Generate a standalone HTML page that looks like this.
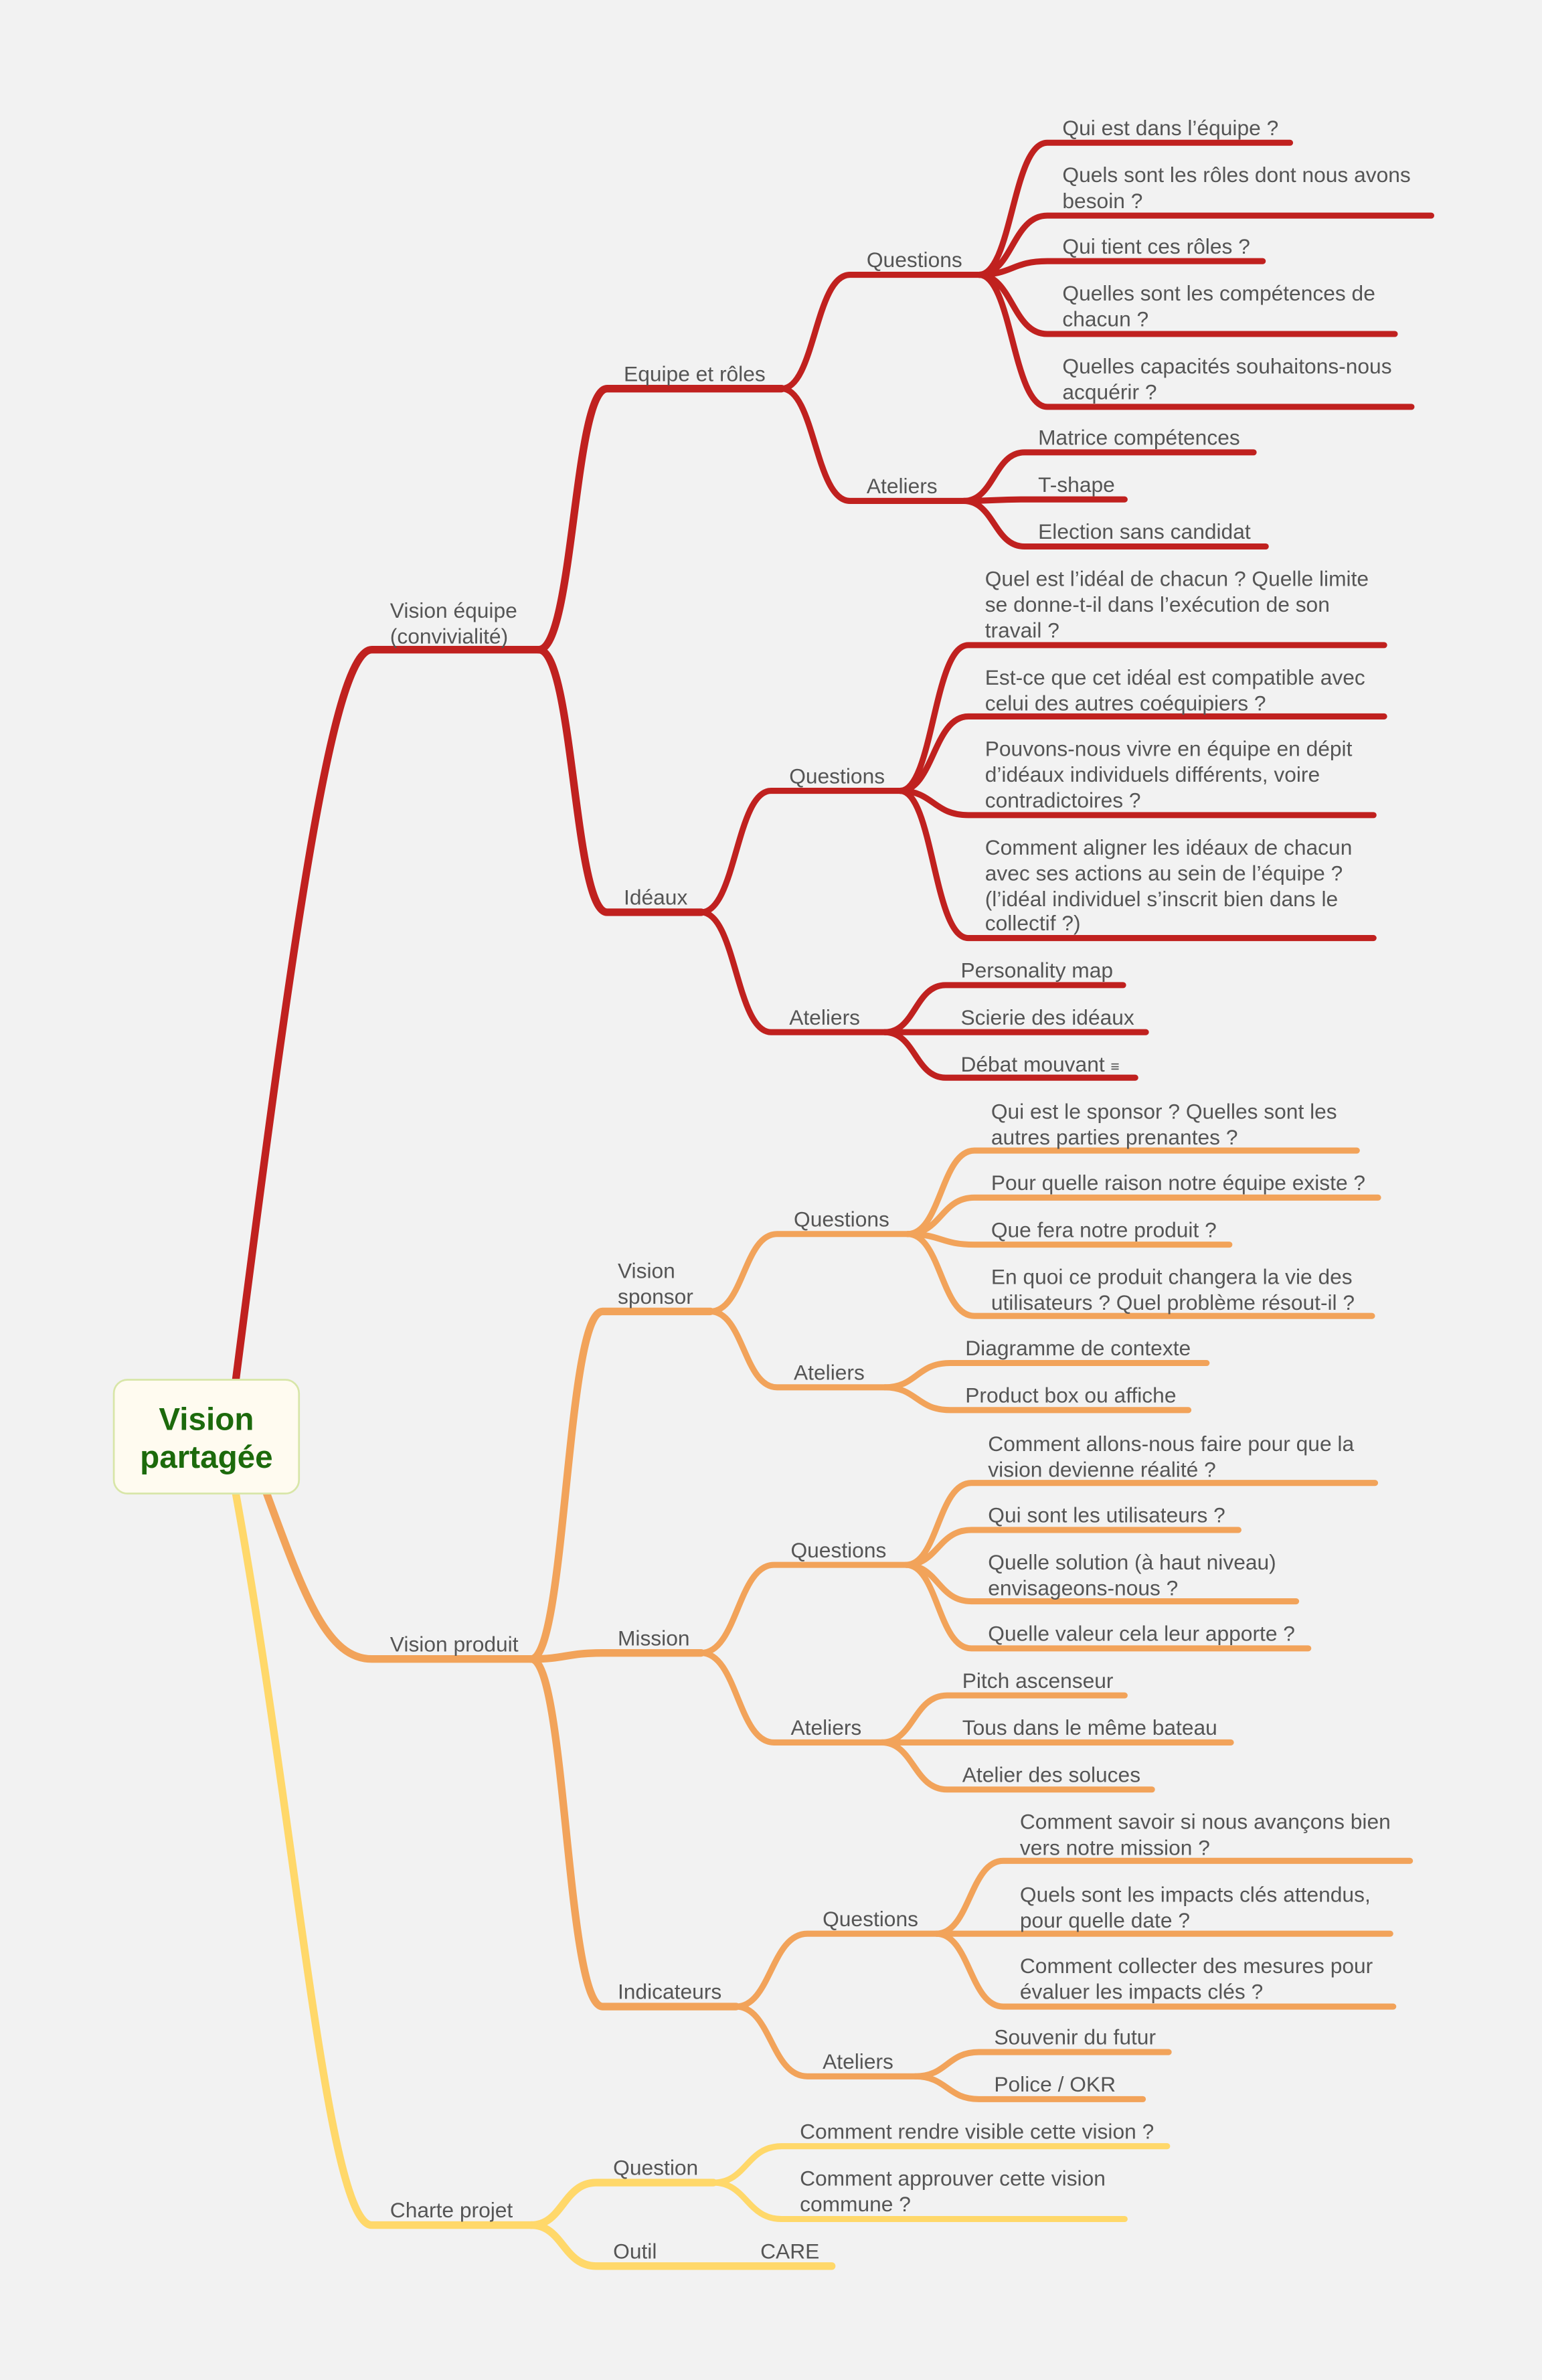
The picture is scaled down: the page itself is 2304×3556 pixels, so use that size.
<!DOCTYPE html>
<html><head><meta charset="utf-8">
<style>
html,body{margin:0;padding:0;background:#f2f2f2;}
svg{display:block;}
text{font-family:"Liberation Sans",Arial,sans-serif;font-size:14px;fill:#555;}
.r path,.o path,.y path{fill:none;stroke-linecap:round;stroke-linejoin:round;}
.r path{stroke:#c0211f;stroke-width:4;}
.o path{stroke:#f2a35a;stroke-width:4;}
.y path{stroke:#ffd86a;stroke-width:4;}
.l1{stroke-width:5 !important;}
</style></head>
<body>
<svg width="2304" height="3556" viewBox="0 0 1016 1568" xmlns="http://www.w3.org/2000/svg">
<rect width="1016" height="1568" fill="#f2f2f2"/>

<!-- RED -->
<g class="r">
<path class="l1" d="M155 912 C195 600 220 428 245 428 L355 428"/>
<path class="l1" d="M355 428 C378 428 378 256 400 256 L515 256"/>
<path class="l1" d="M355 428 C378 428 378 601 400 601 L462 601"/>
<path d="M515 256 C537 256 537 181 560 181 L645 181"/>
<path d="M515 256 C537 256 537 330 560 330 L635 330"/>
<path d="M645 181 C667 181 667 94 690 94 L850 94"/>
<path d="M645 181 C667 181 667 142 690 142 L943 142"/>
<path d="M645 181 C667 181 667 172 690 172 L832 172"/>
<path d="M645 181 C667 181 667 220 690 220 L919 220"/>
<path d="M645 181 C667 181 667 268 690 268 L930 268"/>
<path d="M635 330 C655 330 655 298 675 298 L826 298"/>
<path d="M635 330 C655 330 655 329 675 329 L741 329"/>
<path d="M635 330 C655 330 655 360 675 360 L834 360"/>
<path d="M462 601 C485 601 485 521 508 521 L593 521"/>
<path d="M462 601 C485 601 485 680 508 680 L583 680"/>
<path d="M593 521 C615 521 615 425 638 425 L912 425"/>
<path d="M593 521 C615 521 615 472 638 472 L912 472"/>
<path d="M593 521 C615 521 615 537 638 537 L905 537"/>
<path d="M593 521 C615 521 615 618 638 618 L905 618"/>
<path d="M583 680 C603 680 603 649 623 649 L740 649"/>
<path d="M583 680 C603 680 603 680 623 680 L755 680"/>
<path d="M583 680 C603 680 603 710 623 710 L748 710"/>
</g>

<!-- ORANGE -->
<g class="o">
<path class="l1" d="M175 982 C200 1050 215 1093 245 1093 L350 1093"/>
<path class="l1" d="M350 1093 C373 1093 373 864 397 864 L468 864"/>
<path class="l1" d="M350 1093 C373 1093 373 1089 397 1089 L462 1089"/>
<path class="l1" d="M350 1093 C373 1093 373 1322 397 1322 L485 1322"/>
<path d="M468 864 C490 864 490 813 512 813 L598 813"/>
<path d="M468 864 C490 864 490 914 512 914 L583 914"/>
<path d="M598 813 C620 813 620 758 642 758 L894 758"/>
<path d="M598 813 C620 813 620 789 642 789 L908 789"/>
<path d="M598 813 C620 813 620 820 642 820 L810 820"/>
<path d="M598 813 C620 813 620 867 642 867 L904 867"/>
<path d="M583 914 C604 914 604 898 626 898 L795 898"/>
<path d="M583 914 C604 914 604 929 626 929 L783 929"/>
<path d="M462 1089 C486 1089 486 1031 510 1031 L597 1031"/>
<path d="M462 1089 C486 1089 486 1148 510 1148 L581 1148"/>
<path d="M597 1031 C618 1031 618 977 640 977 L906 977"/>
<path d="M597 1031 C618 1031 618 1008 640 1008 L816 1008"/>
<path d="M597 1031 C618 1031 618 1055 640 1055 L854 1055"/>
<path d="M597 1031 C618 1031 618 1086 640 1086 L862 1086"/>
<path d="M581 1148 C602 1148 602 1117 624 1117 L741 1117"/>
<path d="M581 1148 C602 1148 602 1148 624 1148 L811 1148"/>
<path d="M581 1148 C602 1148 602 1179 624 1179 L759 1179"/>
<path d="M485 1322 C508 1322 508 1274 532 1274 L617 1274"/>
<path d="M485 1322 C508 1322 508 1368 532 1368 L603 1368"/>
<path d="M617 1274 C639 1274 639 1226 661 1226 L929 1226"/>
<path d="M617 1274 C639 1274 639 1274 661 1274 L916 1274"/>
<path d="M617 1274 C639 1274 639 1322 661 1322 L918 1322"/>
<path d="M603 1368 C624 1368 624 1352 645 1352 L770 1352"/>
<path d="M603 1368 C624 1368 624 1383 645 1383 L753 1383"/>
</g>

<!-- YELLOW -->
<g class="y">
<path class="l1" d="M155 982 C195 1200 215 1466 245 1466 L350 1466"/>
<path class="l1" d="M350 1466 C371 1466 371 1438 393 1438 L470 1438"/>
<path class="l1" d="M350 1466 C371 1466 371 1493 393 1493 L548 1493"/>
<path d="M470 1438 C492 1438 492 1414 515 1414 L769 1414"/>
<path d="M470 1438 C492 1438 492 1462 515 1462 L741 1462"/>
</g>

<!-- Root -->
<rect x="75" y="909" width="122" height="75" rx="9" fill="#fffbf0" stroke="#d8e6a8" stroke-width="1.2"/>
<text x="136" y="942" text-anchor="middle" style="font-size:21px;font-weight:bold;fill:#1c6a0c">Vision</text>
<text x="136" y="967" text-anchor="middle" style="font-size:21px;font-weight:bold;fill:#1c6a0c">partagée</text>

<!-- Red labels -->
<text x="257" y="407">Vision équipe</text>
<text x="257" y="424">(convivialité)</text>
<text x="411" y="251">Equipe et rôles</text>
<text x="411" y="596">Idéaux</text>
<text x="571" y="176">Questions</text>
<text x="571" y="325">Ateliers</text>
<text x="700" y="89">Qui est dans l’équipe ?</text>
<text x="700" y="120">Quels sont les rôles dont nous avons</text>
<text x="700" y="137">besoin ?</text>
<text x="700" y="167">Qui tient ces rôles ?</text>
<text x="700" y="198">Quelles sont les compétences de</text>
<text x="700" y="215">chacun ?</text>
<text x="700" y="246">Quelles capacités souhaitons-nous</text>
<text x="700" y="263">acquérir ?</text>
<text x="684" y="293">Matrice compétences</text>
<text x="684" y="324">T-shape</text>
<text x="684" y="355">Election sans candidat</text>
<text x="520" y="516">Questions</text>
<text x="520" y="675">Ateliers</text>
<text x="649" y="386">Quel est l’idéal de chacun ? Quelle limite</text>
<text x="649" y="403">se donne-t-il dans l’exécution de son</text>
<text x="649" y="420">travail ?</text>
<text x="649" y="451">Est-ce que cet idéal est compatible avec</text>
<text x="649" y="468">celui des autres coéquipiers ?</text>
<text x="649" y="498">Pouvons-nous vivre en équipe en dépit</text>
<text x="649" y="515">d’idéaux individuels différents, voire</text>
<text x="649" y="532">contradictoires ?</text>
<text x="649" y="563">Comment aligner les idéaux de chacun</text>
<text x="649" y="580">avec ses actions au sein de l’équipe ?</text>
<text x="649" y="597">(l’idéal individuel s’inscrit bien dans le</text>
<text x="649" y="613">collectif ?)</text>
<text x="633" y="644">Personality map</text>
<text x="633" y="675">Scierie des idéaux</text>
<text x="633" y="706">Débat mouvant  <tspan style="font-size:10px">≡</tspan></text>

<!-- Orange labels -->
<text x="257" y="1088">Vision produit</text>
<text x="407" y="842">Vision</text>
<text x="407" y="859">sponsor</text>
<text x="407" y="1084">Mission</text>
<text x="407" y="1317">Indicateurs</text>
<text x="523" y="808">Questions</text>
<text x="523" y="909">Ateliers</text>
<text x="653" y="737">Qui est le sponsor ? Quelles sont les</text>
<text x="653" y="754">autres parties prenantes ?</text>
<text x="653" y="784">Pour quelle raison notre équipe existe ?</text>
<text x="653" y="815">Que fera notre produit ?</text>
<text x="653" y="846">En quoi ce produit changera la vie des</text>
<text x="653" y="863">utilisateurs ? Quel problème résout-il ?</text>
<text x="636" y="893">Diagramme de contexte</text>
<text x="636" y="924">Product box ou affiche</text>
<text x="521" y="1026">Questions</text>
<text x="521" y="1143">Ateliers</text>
<text x="651" y="956">Comment allons-nous faire pour que la</text>
<text x="651" y="973">vision devienne réalité ?</text>
<text x="651" y="1003">Qui sont les utilisateurs ?</text>
<text x="651" y="1034">Quelle solution (à haut niveau)</text>
<text x="651" y="1051">envisageons-nous ?</text>
<text x="651" y="1081">Quelle valeur cela leur apporte ?</text>
<text x="634" y="1112">Pitch ascenseur</text>
<text x="634" y="1143">Tous dans le même bateau</text>
<text x="634" y="1174">Atelier des soluces</text>
<text x="542" y="1269">Questions</text>
<text x="542" y="1363">Ateliers</text>
<text x="672" y="1205">Comment savoir si nous avançons bien</text>
<text x="672" y="1222">vers notre mission ?</text>
<text x="672" y="1253">Quels sont les impacts clés attendus,</text>
<text x="672" y="1270">pour quelle date ?</text>
<text x="672" y="1300">Comment collecter des mesures pour</text>
<text x="672" y="1317">évaluer les impacts clés ?</text>
<text x="655" y="1347">Souvenir du futur</text>
<text x="655" y="1378">Police / OKR</text>

<!-- Yellow labels -->
<text x="257" y="1461">Charte projet</text>
<text x="404" y="1433">Question</text>
<text x="404" y="1488">Outil</text>
<text x="501" y="1488">CARE</text>
<text x="527" y="1409">Comment rendre visible cette vision ?</text>
<text x="527" y="1440">Comment approuver cette vision</text>
<text x="527" y="1457">commune ?</text>
</svg>
</body></html>
